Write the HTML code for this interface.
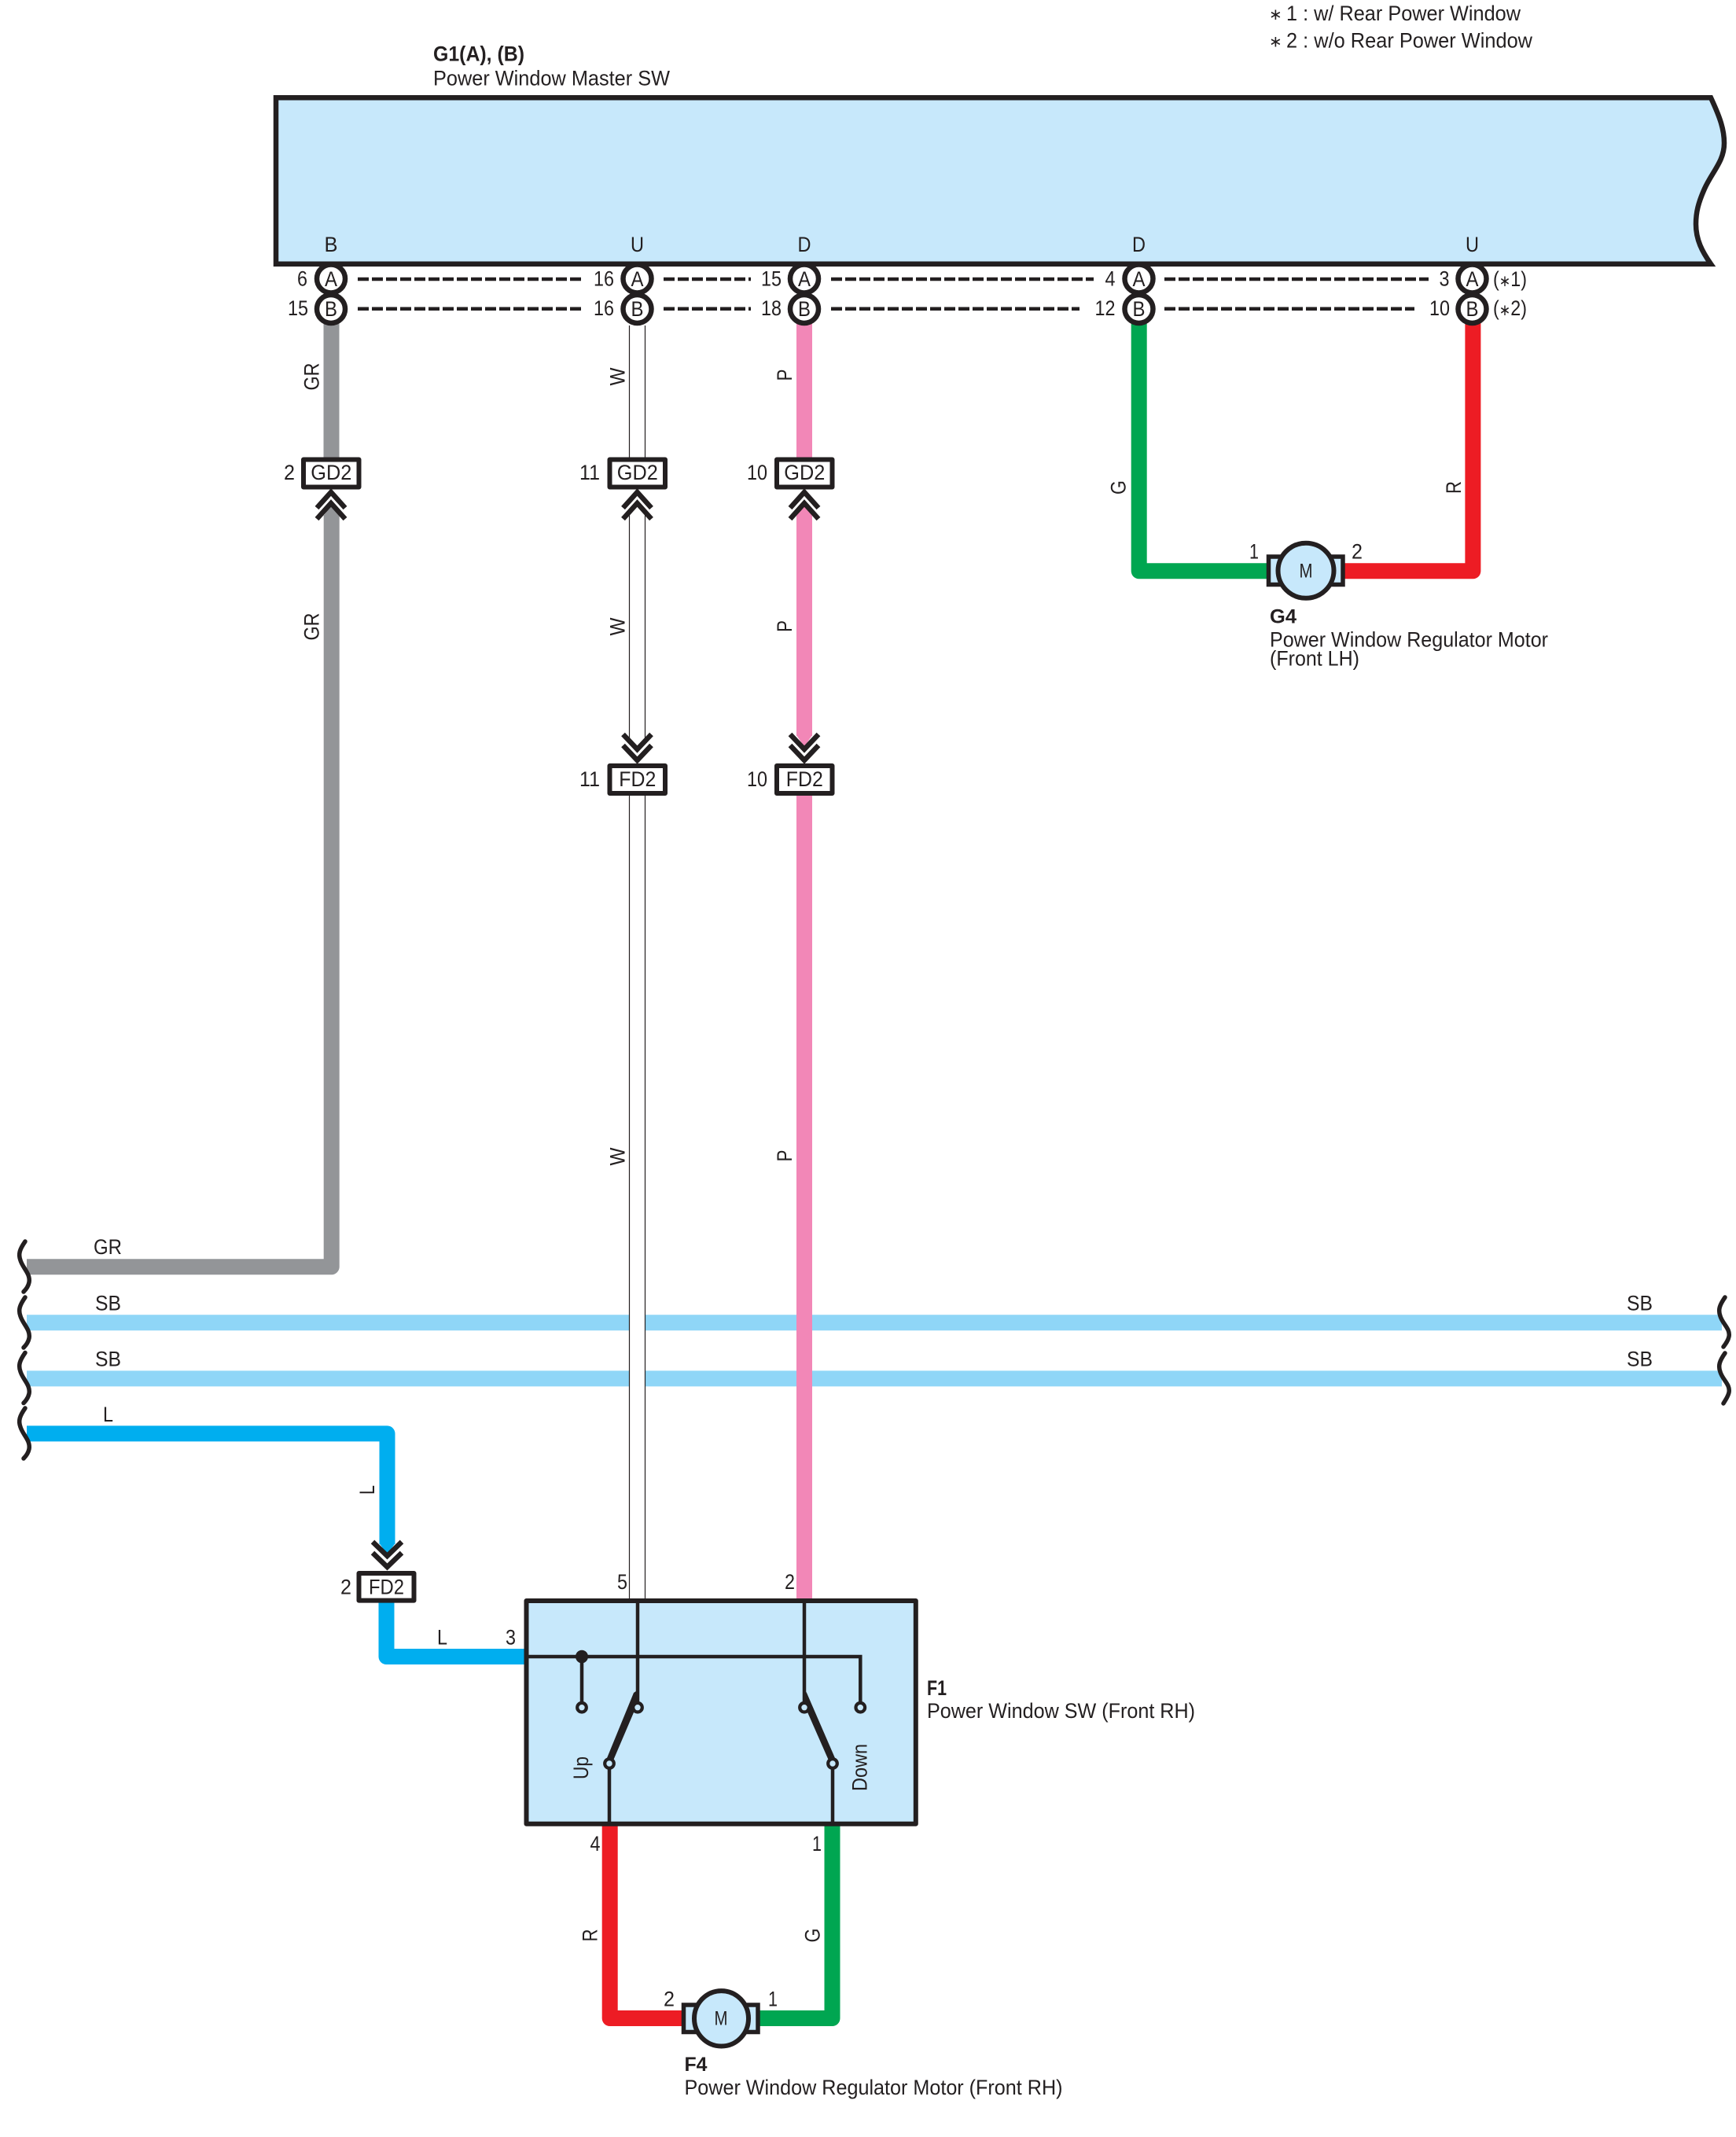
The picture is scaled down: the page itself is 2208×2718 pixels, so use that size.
<!DOCTYPE html>
<html><head><meta charset="utf-8"><title>Power Window Wiring Diagram</title>
<style>
html,body{margin:0;padding:0;background:#fff;width:2208px;height:2718px;overflow:hidden}
svg{display:block}
text{font-family:"Liberation Sans",sans-serif;font-size:27px;fill:#231f20}
.m{text-anchor:middle}.e{text-anchor:end}.b{font-weight:bold}
.w{fill:none;stroke-width:20;stroke-linejoin:round;stroke-linecap:butt}
.c{fill:#fff;stroke:#231f20;stroke-width:6.5}
.t{fill:#fff;stroke:#231f20;stroke-width:6;stroke-linejoin:round}
.d{fill:none;stroke:#231f20;stroke-width:4.5;stroke-dasharray:14 4}
.ch{fill:none;stroke:#231f20;stroke-width:6.5;stroke-linejoin:miter}
.wv{fill:none;stroke:#231f20;stroke-width:5.5;stroke-linecap:round}
.i{fill:none;stroke:#231f20;stroke-width:4.5}
.n{fill:#c7e8fb;stroke:#231f20;stroke-width:4.2}
.tl{stroke:#231f20;stroke-width:1.2}
</style></head><body>
<svg xmlns="http://www.w3.org/2000/svg" width="2208" height="2718" viewBox="0 0 2208 2718">
<rect width="2208" height="2718" fill="#fff"/>

<!-- notes -->
<text x="1614" y="25" style="font-size:20px">∗</text>
<text x="1636" y="26" textLength="298" lengthAdjust="spacingAndGlyphs">1 : w/ Rear Power Window</text>
<text x="1614" y="59.5" style="font-size:20px">∗</text>
<text x="1636" y="60.5" textLength="313" lengthAdjust="spacingAndGlyphs">2 : w/o Rear Power Window</text>
<text class="b" x="551" y="77.5" textLength="116" lengthAdjust="spacingAndGlyphs">G1(A), (B)</text>
<text x="551" y="108.5" textLength="301" lengthAdjust="spacingAndGlyphs">Power Window Master SW</text>

<!-- master box -->
<path d="M351,124.3 H2176 C2188,150 2193,165 2193,182 C2193,205 2178,218 2168,240 C2160,258 2157,270 2157,285 C2157,305 2165,320 2176,335.7 H351 Z" fill="#c7e8fb" stroke="#231f20" stroke-width="6.5"/>
<text class="m" x="421" y="320" textLength="17" lengthAdjust="spacingAndGlyphs">B</text>
<text class="m" x="810.5" y="320" textLength="17" lengthAdjust="spacingAndGlyphs">U</text>
<text class="m" x="1023" y="320" textLength="17" lengthAdjust="spacingAndGlyphs">D</text>
<text class="m" x="1448.5" y="320" textLength="17" lengthAdjust="spacingAndGlyphs">D</text>
<text class="m" x="1872.5" y="320" textLength="17" lengthAdjust="spacingAndGlyphs">U</text>

<!-- SB wires -->
<path class="w" stroke="#8fd6f7" d="M34,1682.2 H2190"/>
<path class="w" stroke="#8fd6f7" d="M34,1753.4 H2190"/>

<!-- GR wire -->
<path class="w" stroke="#939598" d="M421.5,410 V585"/>
<path class="w" stroke="#939598" d="M34,1611.2 H421.7 V655"/>
<polygon points="411.5,656 421.5,643 431.5,656" fill="#939598"/>

<!-- W wire -->
<rect x="800.5" y="414" width="20" height="168" fill="#fff"/>
<rect x="800.5" y="640" width="20" height="305" fill="#fff"/>
<rect x="800.5" y="1012" width="20" height="1022" fill="#fff"/>
<path class="tl" d="M800.5,414 V582 M820.5,414 V582 M800.5,650 V945 M820.5,650 V945 M800.5,1012 V2034 M820.5,1012 V2034"/>

<!-- P wire -->
<path class="w" stroke="#f287b7" d="M1023,410 V585"/>
<path class="w" stroke="#f287b7" d="M1023,656 V936"/>
<polygon points="1013,656 1023,643 1033,656" fill="#f287b7"/>
<polygon points="1013,935 1023,950 1033,935" fill="#f287b7"/>
<path class="w" stroke="#f287b7" d="M1023,1010 V2035"/>

<!-- L wire -->
<path class="w" stroke="#00aeef" d="M34,1823.4 H492.5 V1964"/>
<polygon points="482.5,1963 492.5,1977 502.5,1963" fill="#00aeef"/>
<path class="w" stroke="#00aeef" d="M491.5,2035 V2107 H668"/>

<!-- G4 loop -->
<path class="w" stroke="#00a651" d="M1448.7,410 V726.3 H1612"/>
<path class="w" stroke="#ed1c24" d="M1873.4,410 V726.3 H1710"/>

<!-- F4 loop -->
<path class="w" stroke="#ed1c24" d="M775.7,2320 V2567 H868"/>
<path class="w" stroke="#00a651" d="M1058.5,2320 V2567 H965"/>

<!-- dashes -->
<path class="d" d="M455,355 H741 M844,355 H955 M1057,355 H1391 M1481,355 H1817"/>
<path class="d" d="M455,392.7 H741 M844,392.7 H955 M1057,392.7 H1373 M1481,392.7 H1799"/>

<!-- connector circles -->
<g>
<circle class="c" cx="421" cy="354.5" r="18"/><circle class="c" cx="421" cy="393" r="18"/>
<circle class="c" cx="810.5" cy="354.5" r="18"/><circle class="c" cx="810.5" cy="393" r="18"/>
<circle class="c" cx="1023" cy="354.5" r="18"/><circle class="c" cx="1023" cy="393" r="18"/>
<circle class="c" cx="1448.5" cy="354.5" r="18"/><circle class="c" cx="1448.5" cy="393" r="18"/>
<circle class="c" cx="1872.5" cy="354.5" r="18"/><circle class="c" cx="1872.5" cy="393" r="18"/>
</g>
<g>
<text class="m" x="421" y="364" textLength="16" lengthAdjust="spacingAndGlyphs">A</text><text class="m" x="421" y="402" textLength="16" lengthAdjust="spacingAndGlyphs">B</text>
<text class="m" x="810.5" y="364" textLength="16" lengthAdjust="spacingAndGlyphs">A</text><text class="m" x="810.5" y="402" textLength="16" lengthAdjust="spacingAndGlyphs">B</text>
<text class="m" x="1023" y="364" textLength="16" lengthAdjust="spacingAndGlyphs">A</text><text class="m" x="1023" y="402" textLength="16" lengthAdjust="spacingAndGlyphs">B</text>
<text class="m" x="1448.5" y="364" textLength="16" lengthAdjust="spacingAndGlyphs">A</text><text class="m" x="1448.5" y="402" textLength="16" lengthAdjust="spacingAndGlyphs">B</text>
<text class="m" x="1872.5" y="364" textLength="16" lengthAdjust="spacingAndGlyphs">A</text><text class="m" x="1872.5" y="402" textLength="16" lengthAdjust="spacingAndGlyphs">B</text>
</g>
<!-- pin numbers at master -->
<text x="378" y="363.5" textLength="13" lengthAdjust="spacingAndGlyphs">6</text>
<text x="366" y="401" textLength="26" lengthAdjust="spacingAndGlyphs">15</text>
<text x="755" y="363.5" textLength="26" lengthAdjust="spacingAndGlyphs">16</text>
<text x="755" y="401" textLength="26" lengthAdjust="spacingAndGlyphs">16</text>
<text x="968" y="363.5" textLength="26" lengthAdjust="spacingAndGlyphs">15</text>
<text x="968" y="401" textLength="26" lengthAdjust="spacingAndGlyphs">18</text>
<text x="1405.5" y="363.5" textLength="13" lengthAdjust="spacingAndGlyphs">4</text>
<text x="1392.5" y="401" textLength="26" lengthAdjust="spacingAndGlyphs">12</text>
<text x="1830.5" y="363.5" textLength="13" lengthAdjust="spacingAndGlyphs">3</text>
<text x="1818" y="401" textLength="26" lengthAdjust="spacingAndGlyphs">10</text>
<text x="1899" y="364" textLength="43" lengthAdjust="spacingAndGlyphs">(<tspan style="font-size:20px">∗</tspan>1)</text>
<text x="1899" y="401" textLength="43" lengthAdjust="spacingAndGlyphs">(<tspan style="font-size:20px">∗</tspan>2)</text>

<!-- GD2 connectors -->
<rect class="t" x="386" y="584.5" width="70.5" height="35"/>
<rect class="t" x="775.5" y="584.5" width="70.5" height="35"/>
<rect class="t" x="988" y="584.5" width="70.5" height="35"/>
<text class="m" x="421.3" y="610" textLength="52" lengthAdjust="spacingAndGlyphs">GD2</text>
<text class="m" x="810.8" y="610" textLength="52" lengthAdjust="spacingAndGlyphs">GD2</text>
<text class="m" x="1023.3" y="610" textLength="52" lengthAdjust="spacingAndGlyphs">GD2</text>
<text x="361" y="610" textLength="14" lengthAdjust="spacingAndGlyphs">2</text>
<text x="737" y="610" textLength="26" lengthAdjust="spacingAndGlyphs">11</text>
<text x="950" y="610" textLength="26" lengthAdjust="spacingAndGlyphs">10</text>
<!-- up chevrons -->
<path class="ch" d="M403,646 L421,626 L439,646 M403,660 L421,640 L439,660"/>
<path class="ch" d="M792.5,646 L810.5,626 L828.5,646 M792.5,660 L810.5,640 L828.5,660"/>
<path class="ch" d="M1005,646 L1023,626 L1041,646 M1005,660 L1023,640 L1041,660"/>

<!-- FD2 connectors -->
<rect class="t" x="775.5" y="974" width="70.5" height="35"/>
<rect class="t" x="988" y="974" width="70.5" height="35"/>
<text class="m" x="810.8" y="1000" textLength="47" lengthAdjust="spacingAndGlyphs">FD2</text>
<text class="m" x="1023.3" y="1000" textLength="47" lengthAdjust="spacingAndGlyphs">FD2</text>
<text x="737" y="1000" textLength="26" lengthAdjust="spacingAndGlyphs">11</text>
<text x="950" y="1000" textLength="26" lengthAdjust="spacingAndGlyphs">10</text>
<path class="ch" d="M792.5,934 L810.5,953 L828.5,934 M792.5,948 L810.5,967 L828.5,948"/>
<path class="ch" d="M1005,934 L1023,953 L1041,934 M1005,948 L1023,967 L1041,948"/>

<rect class="t" x="456.5" y="2001" width="70" height="34.6"/>
<text class="m" x="491.5" y="2027.5" textLength="45" lengthAdjust="spacingAndGlyphs">FD2</text>
<text x="433" y="2027.5" textLength="14" lengthAdjust="spacingAndGlyphs">2</text>
<path class="ch" d="M474,1961 L492.5,1979 L511,1961 M474,1975 L492.5,1993 L511,1975"/>

<!-- wire colour labels horizontal -->
<text x="119" y="1595" textLength="36" lengthAdjust="spacingAndGlyphs">GR</text>
<text x="121" y="1666.4" textLength="33" lengthAdjust="spacingAndGlyphs">SB</text>
<text x="121" y="1737.5" textLength="33" lengthAdjust="spacingAndGlyphs">SB</text>
<text x="131" y="1808" textLength="13" lengthAdjust="spacingAndGlyphs">L</text>
<text x="2059" y="1666.4" textLength="33" lengthAdjust="spacingAndGlyphs" dx="10">SB</text>
<text x="2059" y="1737.5" textLength="33" lengthAdjust="spacingAndGlyphs" dx="10">SB</text>
<text x="556" y="2091.7" textLength="13" lengthAdjust="spacingAndGlyphs">L</text>
<text x="643" y="2091.7" textLength="13" lengthAdjust="spacingAndGlyphs">3</text>

<!-- wire colour labels rotated -->
<text class="m" transform="translate(405.5,479) rotate(-90)" textLength="35" lengthAdjust="spacingAndGlyphs">GR</text>
<text class="m" transform="translate(405.5,797) rotate(-90)" textLength="35" lengthAdjust="spacingAndGlyphs">GR</text>
<text class="m" transform="translate(794.5,479) rotate(-90)" textLength="23" lengthAdjust="spacingAndGlyphs">W</text>
<text class="m" transform="translate(794.5,797) rotate(-90)" textLength="23" lengthAdjust="spacingAndGlyphs">W</text>
<text class="m" transform="translate(794.5,1463) rotate(-90)" x="-8" textLength="23" lengthAdjust="spacingAndGlyphs">W</text>
<text class="m" transform="translate(1007,477) rotate(-90)" textLength="15" lengthAdjust="spacingAndGlyphs">P</text>
<text class="m" transform="translate(1007,796.5) rotate(-90)" textLength="15" lengthAdjust="spacingAndGlyphs">P</text>
<text class="m" transform="translate(1007,1470) rotate(-90)" textLength="15" lengthAdjust="spacingAndGlyphs">P</text>
<text class="m" transform="translate(1431.5,620) rotate(-90)" textLength="18" lengthAdjust="spacingAndGlyphs">G</text>
<text class="m" transform="translate(1858,620) rotate(-90)" textLength="16" lengthAdjust="spacingAndGlyphs">R</text>
<text class="m" transform="translate(476,1895) rotate(-90)" textLength="12" lengthAdjust="spacingAndGlyphs">L</text>
<text class="m" transform="translate(759.5,2461.5) rotate(-90)" textLength="16" lengthAdjust="spacingAndGlyphs">R</text>
<text class="m" transform="translate(1042.5,2461.5) rotate(-90)" textLength="18" lengthAdjust="spacingAndGlyphs">G</text>

<!-- wavy breaks -->
<path class="wv" d="M32,1579 C25,1589 23,1595 26,1603 C29,1613 39,1620 37,1631 C36,1636 33,1640 30,1643"/>
<path class="wv" d="M32,1650 C25,1660 23,1666 26,1674 C29,1684 39,1691 37,1702 C36,1707 33,1711 30,1714"/>
<path class="wv" d="M32,1720.5 C25,1730.5 23,1736.5 26,1744.5 C29,1754.5 39,1761.5 37,1772.5 C36,1777.5 33,1781.5 30,1784.5"/>
<path class="wv" d="M32,1791 C25,1801 23,1807 26,1815 C29,1825 39,1832 37,1843 C36,1848 33,1852 30,1855"/>
<path class="wv" d="M2194,1650 C2187,1660 2185,1666 2188,1674 C2191,1684 2201,1690 2199,1700 C2198,1705 2195,1709 2192,1713"/>
<path class="wv" d="M2194,1721 C2187,1731 2185,1737 2188,1745 C2191,1755 2201,1761 2199,1771 C2198,1776 2195,1780 2192,1785"/>

<!-- F1 box -->
<rect x="669.5" y="2036" width="495.3" height="283.7" fill="#c7e8fb" stroke="#231f20" stroke-width="6" stroke-linejoin="round"/>
<path class="i" d="M672,2107 H1094.3 V2171"/>
<path class="i" d="M740,2107 V2171"/>
<path class="i" d="M811,2036 V2171"/>
<path class="i" d="M1023,2036 V2171"/>
<path class="i" d="M775,2243 V2318"/>
<path class="i" d="M1059,2243 V2318"/>
<polygon points="772,2236 806,2153 810.5,2150 812,2164 780,2239" fill="#231f20"/>
<polygon points="1062,2236 1026,2153 1024,2150 1021,2164 1054,2239" fill="#231f20"/>
<ellipse cx="740" cy="2107" rx="8" ry="8.3" fill="#231f20"/>
<circle class="n" cx="740" cy="2171.7" r="5.8"/>
<circle class="n" cx="811" cy="2171.7" r="5.8"/>
<circle class="n" cx="1023" cy="2171.7" r="5.8"/>
<circle class="n" cx="1094.3" cy="2171.7" r="5.8"/>
<circle class="n" cx="775" cy="2243" r="5.8"/>
<circle class="n" cx="1059" cy="2243" r="5.8"/>
<text class="m" transform="translate(748,2248.5) rotate(-90)" textLength="29" lengthAdjust="spacingAndGlyphs">Up</text>
<text class="m" transform="translate(1102.5,2248) rotate(-90)" textLength="60" lengthAdjust="spacingAndGlyphs">Down</text>
<text x="785" y="2021" textLength="13" lengthAdjust="spacingAndGlyphs">5</text>
<text x="998" y="2021" textLength="13" lengthAdjust="spacingAndGlyphs">2</text>
<text x="750.5" y="2354" textLength="13" lengthAdjust="spacingAndGlyphs">4</text>
<text x="1033" y="2354" textLength="12" lengthAdjust="spacingAndGlyphs">1</text>
<text class="b" x="1179" y="2156" textLength="25" lengthAdjust="spacingAndGlyphs">F1</text>
<text x="1179" y="2185" textLength="341" lengthAdjust="spacingAndGlyphs">Power Window SW (Front RH)</text>

<!-- G4 motor -->
<rect x="1613.5" y="708" width="94.5" height="35.5" fill="#c7e8fb" stroke="#231f20" stroke-width="5.5"/>
<ellipse cx="1661" cy="725.8" rx="35.5" ry="35" fill="#c7e8fb" stroke="#231f20" stroke-width="6"/>
<text class="m" x="1661" y="734.5" textLength="17" lengthAdjust="spacingAndGlyphs" style="font-size:25px">M</text>
<text x="1589" y="710.7" textLength="12" lengthAdjust="spacingAndGlyphs">1</text>
<text x="1719" y="710.7" textLength="14" lengthAdjust="spacingAndGlyphs">2</text>
<text class="b" x="1615" y="792.7" textLength="34" lengthAdjust="spacingAndGlyphs" style="font-size:25px">G4</text>
<text x="1615" y="822.7" textLength="354" lengthAdjust="spacingAndGlyphs">Power Window Regulator Motor</text>
<text x="1615" y="846.7" textLength="114" lengthAdjust="spacingAndGlyphs">(Front LH)</text>

<!-- F4 motor -->
<rect x="869.5" y="2550" width="94.5" height="34.5" fill="#c7e8fb" stroke="#231f20" stroke-width="5.5"/>
<ellipse cx="917.5" cy="2567.3" rx="34.5" ry="35.2" fill="#c7e8fb" stroke="#231f20" stroke-width="6"/>
<text class="m" x="917" y="2575.3" textLength="17" lengthAdjust="spacingAndGlyphs" style="font-size:25px">M</text>
<text x="844" y="2551.7" textLength="14" lengthAdjust="spacingAndGlyphs">2</text>
<text x="977" y="2551.7" textLength="12" lengthAdjust="spacingAndGlyphs">1</text>
<text class="b" x="870.5" y="2634" textLength="29" lengthAdjust="spacingAndGlyphs" style="font-size:25px">F4</text>
<text x="870.5" y="2664" textLength="481" lengthAdjust="spacingAndGlyphs">Power Window Regulator Motor (Front RH)</text>
</svg>
</body></html>
